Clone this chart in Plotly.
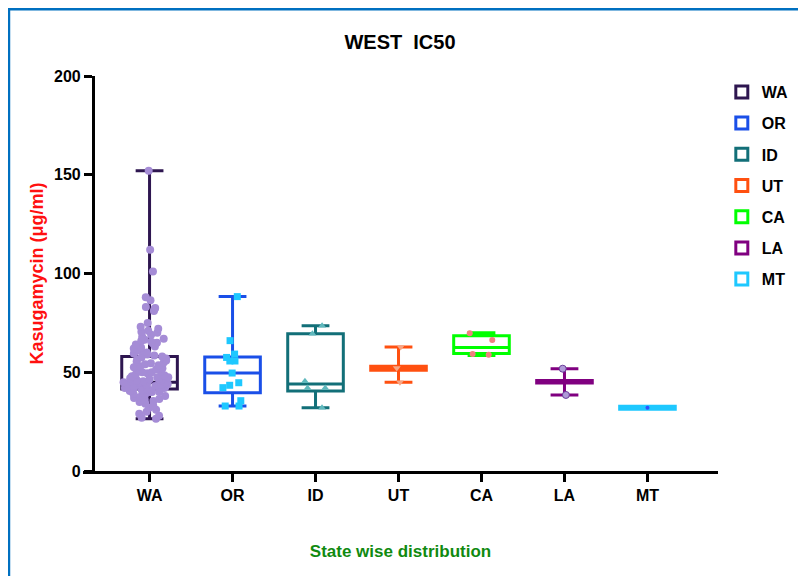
import plotly.graph_objects as go

states = ["WA", "OR", "ID", "UT", "CA", "LA", "MT"]

# Box statistics (min/max whiskers, Prism style)
q1 = [41.5, 39.6, 40.5, 51.0, 59.5, 44.5, 31.3]
median = [45.0, 49.6, 44.0, 52.0, 62.5, 45.0, 32.0]
q3 = [58.0, 57.7, 69.5, 53.0, 68.5, 45.8, 32.8]
vmin = [26.5, 32.9, 32.0, 45.0, 58.5, 38.5, 32.0]
vmax = [152.0, 88.3, 73.6, 62.8, 70.0, 51.8, 32.0]

# Individual sample points
wa_pts = [152, 112, 101, 88, 86.5, 83, 82.5, 82, 81,
          75, 73, 72, 71, 70.5, 70,
          69, 68, 67, 66.5, 66, 65.5, 65,
          64.5, 64, 63, 62.5, 62, 61.5, 61, 60.5, 60,
          59.5, 59, 58.5, 58, 57.5, 57, 56.5, 56, 55.5, 55,
          54.5, 54, 53.5, 53, 52.5, 52, 51.5, 51, 50.5, 50, 50,
          49.5, 49, 48.5, 48, 47.5, 47.5, 47, 46.5, 46.5, 46, 46, 45.5, 45.5, 45, 45, 45,
          44.5, 44.5, 44, 44, 44, 43.5, 43.5, 43, 43, 43, 42.5, 42.5, 42, 42, 42,
          41.5, 41.5, 41, 41, 40.5, 40.5, 40, 40, 40,
          39.5, 39, 38.5, 38, 37.5, 37, 36.5, 36, 35.5, 35,
          34, 33, 32, 31, 30, 29, 28, 27, 26.5]
or_pts = [88.3, 66, 59.2, 57.5, 55.7, 55.7, 49.6, 44.7, 43.4, 42.2, 35.6, 32.9, 32.9]
id_pts = [73.5, 69.5, 45.5, 42, 42, 32]
ut_pts = [62.8, 52.2, 45.0]
ca_pts = [69.7, 66.3, 58.8, 59.2]
la_pts = [51.8, 38.5]
mt_pts = [32.0]
points = [wa_pts, or_pts, id_pts, ut_pts, ca_pts, la_pts, mt_pts]

line_colors = ["#2e1650", "#1a4fe8", "#126f78", "#ff5010", "#00ff00", "#800080", "#1ec8ff"]
pt_colors = ["#a58cd6", "#1ec8ff", "#5fb8bd", "#f7a584", "#f08080", "#b09ad8", "#3050ff"]
pt_symbols = ["circle", "square", "triangle-up", "triangle-down", "circle", "circle", "circle"]
pt_sizes = [8, 7, 7, 7, 6, 7, 4]
jitters = [0.95, 0.45, 0.45, 0.1, 0.5, 0.1, 0.0]

FONT = "Liberation Sans, Arial, sans-serif"
BOXW = 0.67

fig = go.Figure()
for i, s in enumerate(states):
    fig.add_trace(go.Box(
        name=s, x=[s], q1=[q1[i]], median=[median[i]], q3=[q3[i]],
        lowerfence=[vmin[i]], upperfence=[vmax[i]],
        boxpoints=False, width=BOXW, whiskerwidth=0.5,
        line=dict(color=line_colors[i], width=3),
        fillcolor="white", legendgroup=s, showlegend=True,
    ))
for i, s in enumerate(states):
    fig.add_trace(go.Box(
        name=s, x=[s] * len(points[i]), y=points[i],
        boxpoints="all", pointpos=0, jitter=jitters[i], width=BOXW,
        line=dict(color="rgba(0,0,0,0)", width=0),
        fillcolor="rgba(0,0,0,0)",
        marker=dict(color=pt_colors[i], symbol=pt_symbols[i], size=pt_sizes[i],
                    line=dict(color="#6a3d9a" if s == "LA" else pt_colors[i],
                              width=1 if s == "LA" else 0)),
        legendgroup=s, showlegend=False, hoverinfo="y",
    ))

# The page body adds an 8px offset; the figure is sized to fill the rest.
fig.update_layout(
    width=798, height=568,
    margin=dict(l=75, r=86, t=68, b=105),
    paper_bgcolor="white", plot_bgcolor="white",
    boxmode="overlay",
    font=dict(family=FONT, color="black", size=16, weight="bold"),
    title=dict(text="WEST  IC50", x=(400 - 8) / 798, xref="container", xanchor="center",
               y=1 - 34 / 568, yanchor="middle",
               font=dict(family=FONT, size=20, color="black", weight="bold")),
    xaxis=dict(
        type="category", categoryorder="array", categoryarray=states,
        range=[-0.802, 6.85],
        showline=True, linecolor="black", linewidth=3,
        ticks="outside", ticklen=8, tickwidth=3, tickcolor="black",
        showgrid=False, zeroline=False,
        tickfont=dict(family=FONT, size=16, color="black", weight="bold"),
        title=dict(text="State wise distribution", standoff=42,
                   font=dict(family=FONT, size=17, color="#108a10", weight="bold")),
    ),
    yaxis=dict(
        range=[0, 200], tickvals=[0, 50, 100, 150, 200],
        anchor="free", position=10 / 637,
        showline=True, linecolor="black", linewidth=3,
        ticks="outside", ticklen=8, tickwidth=3, tickcolor="black",
        showgrid=False, zeroline=False,
        tickfont=dict(family=FONT, size=16, color="black", weight="bold"),
        title=dict(text="Kasugamycin (μg/ml)", standoff=4,
                   font=dict(family=FONT, size=18, color="#ff1010", weight="bold")),
    ),
    legend=dict(
        x=1.006, xanchor="left", y=1.0025, yanchor="top",
        font=dict(family=FONT, size=16, color="black", weight="bold"),
        tracegroupgap=7.4, bgcolor="rgba(0,0,0,0)",
    ),
    shapes=[dict(type="rect", xref="paper", yref="paper",
                 x0=(0.5 - 75) / 637, x1=1.2, y0=-0.35, y1=(463 - 1) / 395,
                 line=dict(color="#0070c0", width=3), fillcolor="rgba(0,0,0,0)",
                 layer="below")],
)

fig.write_html("out.html")
